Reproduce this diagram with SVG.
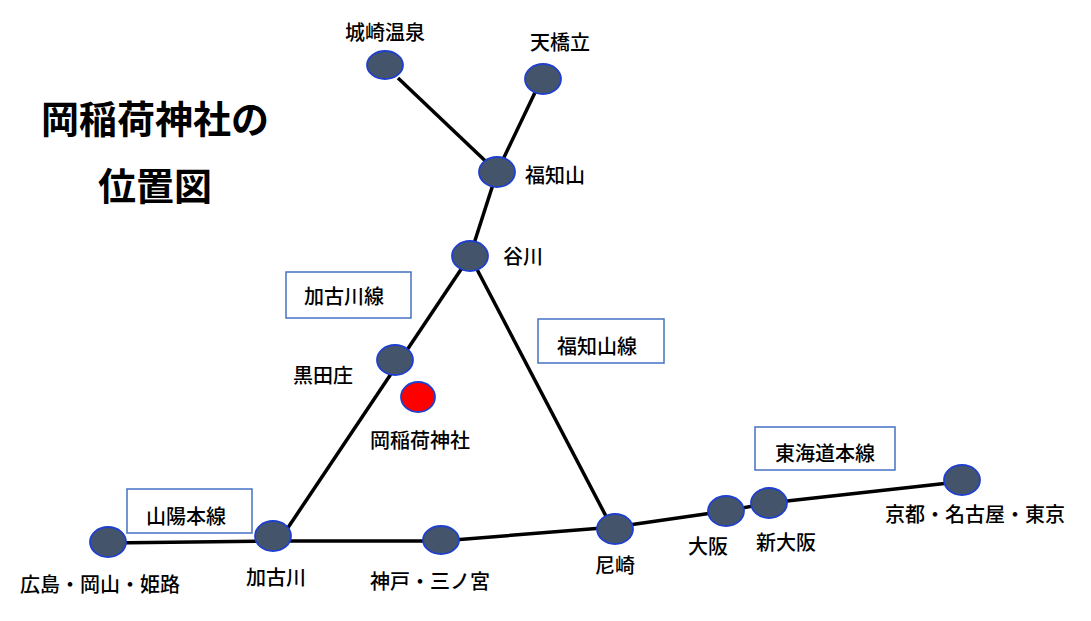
<svg xmlns="http://www.w3.org/2000/svg" width="1091" height="621" viewBox="0 0 1091 621">
<style>
text{font-family:"Noto Sans CJK JP","Noto Sans CJK SC",sans-serif;font-size:20px;fill:#000;text-anchor:middle;font-weight:500}
.n{fill:#44546a;stroke:#1f3fd0;stroke-width:1.8}
.b{fill:#fff;stroke:#4472c4;stroke-width:1.5}
.l{stroke:#000;stroke-width:3.5;fill:none}
.t{font-size:38px;font-weight:bold}
</style>
<rect width="1091" height="621" fill="#fff"/>
<g id="connectors">
<line class="l" x1="398" y1="78" x2="497" y2="172"/>
<line class="l" x1="540" y1="82" x2="497" y2="172"/>
<line class="l" x1="497" y1="172" x2="470" y2="256"/>
<line class="l" x1="470" y1="256" x2="273" y2="550"/>
<line class="l" x1="470" y1="256" x2="608" y2="520"/>
<polyline class="l" points="108,543 273,541 441,541 615,527 726,511 769,503 958,482"/>
</g>
<text class="t" x="155" y="133">岡稲荷神社の</text>
<text class="t" x="155" y="200">位置図</text>
<g id="box1"><rect class="b" x="286" y="272" width="125" height="46"/><text x="344" y="304">加古川線</text></g>
<g id="box2"><rect class="b" x="538" y="319" width="126" height="44"/><text x="597" y="354">福知山線</text></g>
<g id="box3"><rect class="b" x="127" y="489" width="125" height="44"/><text x="186" y="524">山陽本線</text></g>
<g id="box4"><rect class="b" x="755" y="427" width="140" height="43"/><text x="825" y="461">東海道本線</text></g>
<g id="n1"><ellipse class="n" cx="385" cy="65" rx="18" ry="14"/><text x="385" y="40">城崎温泉</text></g>
<g id="n2"><ellipse class="n" cx="543" cy="79" rx="18" ry="15"/><text x="560" y="50">天橋立</text></g>
<g id="n3"><ellipse class="n" cx="497" cy="172" rx="18" ry="15"/><text x="555" y="183">福知山</text></g>
<g id="n4"><ellipse class="n" cx="470" cy="256" rx="18" ry="15"/><text x="523" y="264">谷川</text></g>
<g id="n5"><ellipse class="n" cx="395" cy="360" rx="18" ry="15"/><text x="323" y="383">黒田庄</text></g>
<g id="n6"><ellipse cx="418" cy="397" rx="17" ry="15" fill="#f00" stroke="#1f3fd0" stroke-width="1.8"/><text x="420" y="448">岡稲荷神社</text></g>
<g id="n7"><ellipse class="n" cx="273" cy="536" rx="18" ry="15"/><text x="276" y="585">加古川</text></g>
<g id="n8"><ellipse class="n" cx="108" cy="542" rx="18" ry="15"/><text x="100" y="592">広島・岡山・姫路</text></g>
<g id="n9"><ellipse class="n" cx="441" cy="540" rx="18" ry="14"/><text x="430" y="589">神戸・三ノ宮</text></g>
<g id="n10"><ellipse class="n" cx="615" cy="529" rx="18" ry="15"/><text x="615" y="573">尼崎</text></g>
<g id="n11"><ellipse class="n" cx="726" cy="511" rx="18" ry="15"/><text x="708" y="554">大阪</text></g>
<g id="n12"><ellipse class="n" cx="769" cy="503" rx="18" ry="15"/><text x="786" y="550">新大阪</text></g>
<g id="n13"><ellipse class="n" cx="962" cy="480" rx="18" ry="15"/><text x="975" y="522">京都・名古屋・東京</text></g>
</svg>
